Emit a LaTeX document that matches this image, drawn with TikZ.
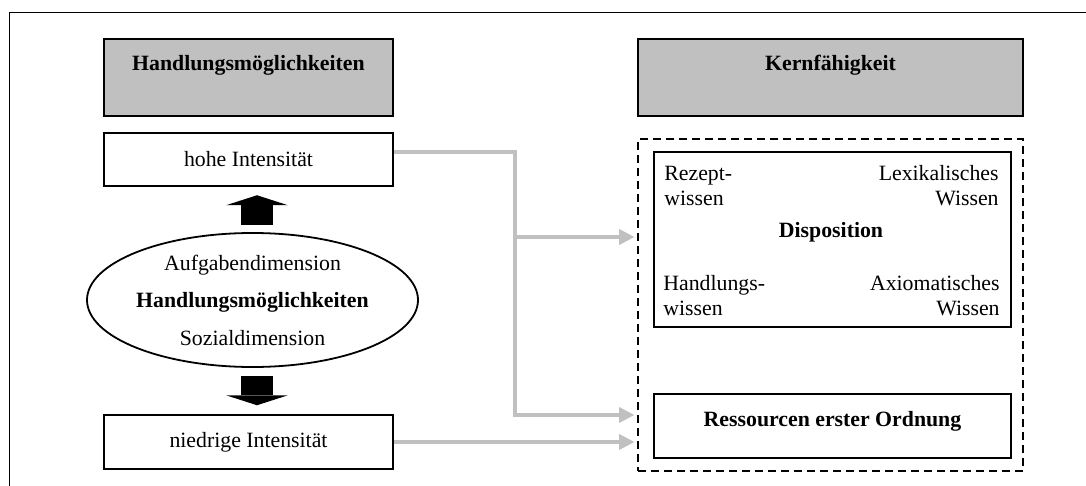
\documentclass[tikz,border=0pt]{standalone}
\usepackage{fontspec}
\setmainfont{Liberation Serif}
\usetikzlibrary{shapes.geometric,arrows.meta}
\definecolor{headgray}{HTML}{C0C0C0}
\definecolor{linkgray}{HTML}{C0C0C0}
\begin{document}
\begin{tikzpicture}[x=0.5pt,y=-0.5pt,
  font=\fontsize{10.9pt}{12.5pt}\selectfont,
  header/.style={draw,line width=1pt,fill=headgray,inner sep=0pt,
    text height=16pt,text depth=22.5pt,font=\fontsize{10.9pt}{12.5pt}\selectfont\bfseries},
  levelbox/.style={draw,line width=1pt,inner sep=0pt,minimum width=144.5pt,minimum height=26.75pt},
  dimell/.style={draw,ellipse,line width=0.9pt,inner sep=0pt,minimum width=165.5pt,minimum height=67pt},
  groupbox/.style={draw,dashed,dash pattern=on 4pt off 2.5pt,line width=0.8pt,inner sep=0pt,
    minimum width=192.5pt,minimum height=166pt},
  innerbox/.style={draw,line width=1pt,inner sep=0pt,minimum width=178.5pt},
  knowl/.style={inner sep=0pt},
  blockarrow/.style={line width=16pt,-{Triangle[length=5pt,width=31pt,line width=0pt]}},
  link/.style={draw=linkgray,line width=2pt,-{Triangle[length=7.5pt,width=8pt,line width=0pt]},
    shorten >=1.5pt}
]
\useasboundingbox (0,0) rectangle (1086,486);
\fill[white] (0,0) rectangle (1086,486);

% outer frame
\draw[line width=0.9pt] (9.5,486) |- (1086,12.5);

% left column
\node[header,minimum width=144.5pt] (headL) at (248.5,77.5) {Handlungsmöglichkeiten};
\node[levelbox] (hohe) at (248.5,159.5) {hohe Intensität};
\node[dimell] (ell) at (252.5,300) {};
\node[align=center,inner sep=0pt] (elltext) at (ell.center)
  {Aufgabendimension\\[6.25pt]\textbf{Handlungsmöglichkeiten}\\[6.25pt]Sozialdimension};
\node[levelbox] (niedrig) at (248.5,442) {niedrige Intensität};

% block arrows
\draw[blockarrow] ([xshift=2.25pt,yshift=3.5pt]ell.north) -- ([xshift=4.25pt,yshift=-4pt]hohe.south);
\draw[blockarrow] ([xshift=2.25pt,yshift=-4pt]ell.south) -- ([xshift=4.25pt,yshift=4.5pt]niedrig.north);

% right column
\node[header,minimum width=192.5pt] (headR) at (830.5,77.5) {Kernfähigkeit};
\node[groupbox] (kern) at (830.5,305) {};
\node[innerbox,minimum height=87.5pt] (disp) at (832.5,239.5) {};
\node[knowl,align=left,anchor=west] (rez) at (664,185.5) {Rezept-\\wissen};
\node[knowl,align=right,anchor=east] (lex) at (999,185.5) {Lexikalisches\\Wissen};
\node[knowl,font=\fontsize{10.9pt}{12.5pt}\selectfont\bfseries] (dispt) at (831,232) {Disposition};
\node[knowl,align=left,anchor=west] (hand) at (663,295.5) {Handlungs-\\wissen};
\node[knowl,align=right,anchor=east] (axi) at (1000,295.5) {Axiomatisches\\Wissen};
\node[innerbox,text height=16pt,text depth=16pt,font=\fontsize{10.9pt}{12.5pt}\selectfont\bfseries]
  (res) at (832.5,426) {Ressourcen erster Ordnung};

% grey connectors
\coordinate (j1) at (515,237);
\coordinate (j2) at (515,415);
\draw[link] ([yshift=3.75pt]hohe.east) -| (j2) -- (j2 -| kern.west);
\draw[link] (j1) -- (j1 -| kern.west);
\draw[link] (niedrig.east) -- (niedrig.east -| kern.west);
\end{tikzpicture}
\end{document}
